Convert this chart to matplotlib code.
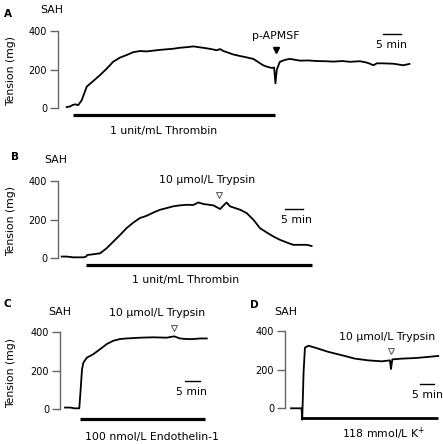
import matplotlib
matplotlib.use("Agg")
import matplotlib.pyplot as plt

plt.rcParams["font.family"] = ["DejaVu Sans"]

# --- traces (time in min, tension in mg) ---
tA = [0, 1.0, 1.8, 2.5, 3.4, 4.4, 5.9, 7.8, 9.8, 11.8, 13.7, 15.7, 17.6, 19.6, 21.6,
      23.5, 25.5, 27.5, 29.4, 31.4, 33.3, 35.3, 37.3, 39.2, 41.2, 43.1, 44.1, 45.1,
      46.1, 47.1, 49.0, 51.0, 52.9, 54.9, 56.9, 57.8, 58.8, 60.3, 61.0, 61.4, 61.8,
      62.7, 64.2, 65.7, 68.6, 71.0, 73.5, 76.0, 78.4, 81.0, 83.3, 86.3, 88.2, 89.2,
      90.2, 91.2, 93.0, 96.1, 99.0, 100.8]
yA = [5, 8, 16, 19, 15, 40, 111, 140, 171, 205, 241, 262, 275, 290, 296,
      294, 298, 302, 305, 308, 313, 316, 320, 315, 310, 304, 300, 306,
      296, 290, 278, 270, 263, 255, 232, 222, 215, 208, 210, 128, 200,
      240, 250, 255, 246, 247, 244, 243, 241, 244, 240, 243, 236, 230,
      222, 232, 232, 230, 222, 229]

tB = [0, 1.5, 3.4, 6.4, 7.2, 7.5, 9.3, 11.3, 13.2, 15.2, 17.2, 19.1, 21.1, 23.0,
      25.0, 27.0, 28.9, 30.9, 32.8, 34.8, 36.8, 38.7, 40.2, 41.7, 44.6, 46.6, 47.5,
      48.5, 49.5, 52.5, 54.4, 56.4, 58.3, 60.3, 62.3, 64.2, 66.2, 68.1, 70.1, 72.1,
      73.5]
yB = [9, 9, 5, 5, 9, 17, 21, 26, 52, 87, 122, 157, 186, 209,
      221, 238, 252, 261, 270, 275, 278, 277, 290, 282, 275, 256, 273,
      290, 270, 252, 235, 200, 157, 134, 113, 96, 82, 70, 70, 70,
      64]

tC = [0, 1.5, 2.9, 4.2, 4.6, 5.0, 5.4, 6.4, 8.3, 10.3, 12.3, 14.2, 16.2, 18.1,
      22.1, 26.0, 29.9, 32.1, 33.8, 35.8, 37.7, 39.7, 41.7]
yC = [9, 9, 5, 5, 102, 207, 242, 268, 286, 312, 339, 356, 365, 368,
      372, 374, 372, 379, 368, 365, 365, 368, 368]

tD = [0, 2.6, 3.1, 3.3, 3.7, 4.1, 5.1, 7.1, 11.0, 14.9, 18.8, 22.7, 26.7, 29.1,
      29.4, 29.8, 32.5, 36.5, 40.4, 43.3]
yD = [0, 0, 0, -59, 187, 315, 325, 315, 293, 276, 258, 249, 244, 249,
      204, 254, 258, 261, 267, 272]

# drug application bars (start, end) in min
barA = (1.8, 61.4)
barB = (7.2, 73.5)
barC = (4.4, 41.2)
barD = (3.3, 43.1)

# "5 min" scale bars (start, end) in min, as drawn in each panel
sbA = (92.9, 98.2)
sbB = (65.7, 71.0)
sbC = (35.3, 39.7)
sbD = (37.9, 42.1)

W, H = 443, 444
PPM = 3.4          # px per minute
PPMG = 77 / 400.0  # px per mg
FS = 7.8           # annotation font size
TFS = 7            # tick label font size

fig = plt.figure(figsize=(W / 100, H / 100), dpi=100)


def panel(left, right, top, bottom, t0, zero, ylabel=True):
    ax = fig.add_axes([left / W, 1 - bottom / H, (right - left) / W, (bottom - top) / H])
    ax.set_xlim((left - t0) / PPM, (right - t0) / PPM)
    ax.set_ylim((zero - bottom) / PPMG, (zero - top) / PPMG)
    for s in ["top", "right", "bottom"]:
        ax.spines[s].set_visible(False)
    ax.spines["left"].set_bounds(0, 400)
    ax.spines["left"].set_color("#666666")
    ax.spines["left"].set_linewidth(1.0)
    ax.set_xticks([])
    ax.set_yticks([0, 200, 400])
    ax.tick_params(axis="y", length=5.5, width=1.0, color="#666666", pad=2.4,
                   labelsize=TFS)
    ax.patch.set_visible(False)
    if ylabel:
        ax.set_ylabel("Tension (mg)", fontsize=FS)
        ax.yaxis.set_label_coords((16 - left) / (right - left), 0.5)
    return ax


def label(ax, x, y, s):
    ax.text(x, y, s, ha="center", va="baseline", fontsize=FS)


def scalebar(ax, sb, y, tx, ty):
    ax.plot(sb, [y, y], color="black", lw=1.0, clip_on=False)
    label(ax, tx, ty, "5 min")


def trypsin(ax, tx, ty, mx, my):
    label(ax, tx, ty, "10 \u00b5mol/L Trypsin")
    ax.plot([mx], [my], marker="v", ms=4.5, mfc="white", mec="#555555", mew=0.7,
            clip_on=False)


# ---- Panel A ----
axA = panel(58, 420, 20, 122, 66.7, 108)
axA.plot(tA, yA, color="black", lw=1.3, clip_on=False)
axA.plot(barA, [-38, -38], color="black", lw=2.3, solid_capstyle="butt", clip_on=False)
label(axA, 28.6, -135, "1 unit/mL Thrombin")
label(axA, 61.6, 357, "p-APMSF")
axA.plot([61.6], [301], marker="v", ms=4.5, color="black", clip_on=False)
scalebar(axA, sbA, 384, tx=95.5, ty=310)

# ---- Panel B ----
axB = panel(58, 420, 170, 272, 61.7, 258.3)
axB.plot(tB, yB, color="black", lw=1.3, clip_on=False)
axB.plot(barB, [-35, -35], color="black", lw=2.3, solid_capstyle="butt", clip_on=False)
label(axB, 36.3, -127, "1 unit/mL Thrombin")
trypsin(axB, 42.7, 390, 46.3, 329)
scalebar(axB, sbB, 255, tx=69.1, ty=185)

# ---- Panel C ----
axC = panel(60, 215, 322, 424, 65, 409.3)
axC.plot(tC, yC, color="black", lw=1.3, clip_on=False)
axC.plot(barC, [-52, -52], color="black", lw=2.3, solid_capstyle="butt", clip_on=False)
label(axC, 25.5, -159, "100 nmol/L Endothelin-1")
trypsin(axC, 27.0, 485, 32.1, 421)
scalebar(axC, sbC, 147, tx=37.1, ty=72)

# ---- Panel D ----
axD = panel(285, 441, 322, 424, 291, 408.3, ylabel=False)
axD.plot(tD, yD, color="black", lw=1.3, clip_on=False)
axD.plot(barD, [-52, -52], color="black", lw=2.0, solid_capstyle="butt", clip_on=False)
label(axD, 27.1, -153, "118 mmol/L K$^{+}$")
trypsin(axD, 28.4, 355, 29.4, 298)
scalebar(axD, sbD, 126, tx=40.0, ty=56)

# panel letters and titles (pixel positions: centre x, baseline y)
for lab, x, y in [("A", 8, 16.7), ("B", 14.5, 160), ("C", 7, 306.7), ("D", 254, 308.3)]:
    fig.text(x / W, 1 - y / H, lab, ha="center", va="baseline", fontsize=7.5,
             fontweight="bold")
for x, y in [(52, 12.7), (56, 162.7), (60, 315), (286, 315)]:
    fig.text(x / W, 1 - y / H, "SAH", ha="center", va="baseline", fontsize=FS)

fig.savefig("out.png", dpi=100)
